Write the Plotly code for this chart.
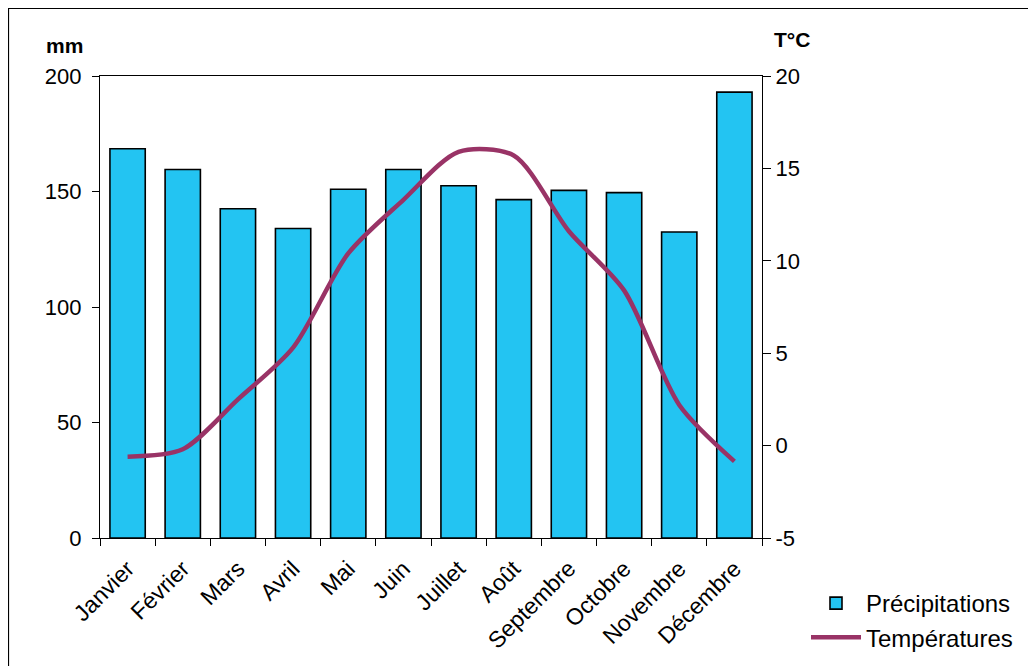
import plotly.graph_objects as go

months = ["Janvier", "Février", "Mars", "Avril", "Mai", "Juin", "Juillet",
          "Août", "Septembre", "Octobre", "Novembre", "Décembre"]
precipitations = [168.5, 159.5, 142.5, 134, 151, 159.5, 152.5, 146.5, 150.5, 149.5, 132.5, 193]
temperatures = [-0.6, -0.2, 2.5, 5.3, 10.4, 13.3, 15.9, 15.7, 11.6, 8.4, 2.2, -0.85]
temp_ticks = [-5, 0, 5, 10, 15, 20]
temp_labels = ["-5", "0", "5", "10", "15", "20"]

FONT = "Liberation Sans, Arial, sans-serif"
OFF = 8  # page body margin
W, H = 1036 - OFF, 666 - OFF
PL, PR, PT, PB = 100, 762, 76, 538  # plot area in page pixels
L, R, T, B = PL - OFF, 1036 - PR, PT - OFF, 666 - PB
pw, ph = PR - PL, PB - PT

def px_x(x):
    return (x - PL) / pw

def px_y(y):
    return (PB - y) / ph

fig = go.Figure()
fig.add_trace(go.Bar(
    x=months, y=precipitations, name="Précipitations",
    marker=dict(color="#23C4F2", line=dict(color="black", width=1.6)),
    yaxis="y",
))
fig.add_trace(go.Scatter(
    x=months, y=temperatures, name="Températures", mode="lines",
    line=dict(color="#993366", width=4.5, shape="spline", smoothing=0.8),
    yaxis="y2",
))

fig.update_layout(
    width=W, height=H,
    margin=dict(l=L, r=R, t=T, b=B, autoexpand=False),
    paper_bgcolor="white", plot_bgcolor="white",
    font=dict(family=FONT, size=21, color="black"),
    bargap=0.36,
    showlegend=True,
    legend=dict(x=px_x(806), y=px_y(581), xanchor="left", yanchor="top",
                font=dict(size=24), bgcolor="rgba(0,0,0,0)",
                tracegroupgap=2, itemwidth=50),
    xaxis=dict(type="category", range=[-0.5, 11.5], tickson="boundaries",
               ticks="outside", ticklen=7, tickcolor="black", tickwidth=1,
               showline=True, linecolor="black", linewidth=1.2,
               mirror=True, showgrid=False, tickangle=-45, automargin=False,
               tickfont=dict(size=23), ticklabelstandoff=7),
    xaxis2=dict(overlaying="x", range=[-0.5, 11.5], tickmode="array",
                tickvals=[i - 0.5 for i in range(13)], ticks="inside",
                ticklen=6, tickcolor="black", showticklabels=False,
                showline=False, showgrid=False, zeroline=False, side="bottom",
                anchor="y", automargin=False),
    yaxis=dict(range=[0, 200], dtick=50, ticks="outside", ticklen=7,
               tickcolor="black", showline=True, linecolor="black",
               linewidth=1.2, showgrid=False, zeroline=False, automargin=False,
               tickfont=dict(size=22), ticksuffix=" "),
    yaxis2=dict(range=[-5, 20], tickmode="array", tickvals=temp_ticks,
                ticktext=temp_labels, overlaying="y", side="right",
                ticks="outside", ticklen=8, tickcolor="black",
                showline=True, linecolor="black", linewidth=1.2, automargin=False,
                showgrid=False, zeroline=False, tickfont=dict(size=22),
                tickprefix=" "),
    yaxis3=dict(range=[-5, 20], dtick=5, overlaying="y", side="right",
                anchor="x", ticks="inside", ticklen=8, tickcolor="black",
                showticklabels=False, showline=False, showgrid=False,
                zeroline=False, automargin=False),
    annotations=[
        dict(text="<b>mm</b>", x=px_x(64), y=px_y(45), xref="paper", yref="paper",
             showarrow=False, font=dict(size=21), xanchor="center", yanchor="middle"),
        dict(text="<b>T°C</b>", x=px_x(792), y=px_y(40), xref="paper", yref="paper",
             showarrow=False, font=dict(size=21), xanchor="center", yanchor="middle"),
    ],
    shapes=[
        dict(type="rect", xref="paper", yref="paper",
             x0=px_x(8.5), x1=px_x(1045), y0=px_y(675), y1=px_y(8.5),
             line=dict(color="black", width=1.2), fillcolor="rgba(0,0,0,0)",
             layer="below"),
    ],
)

fig.write_html("out.html")
